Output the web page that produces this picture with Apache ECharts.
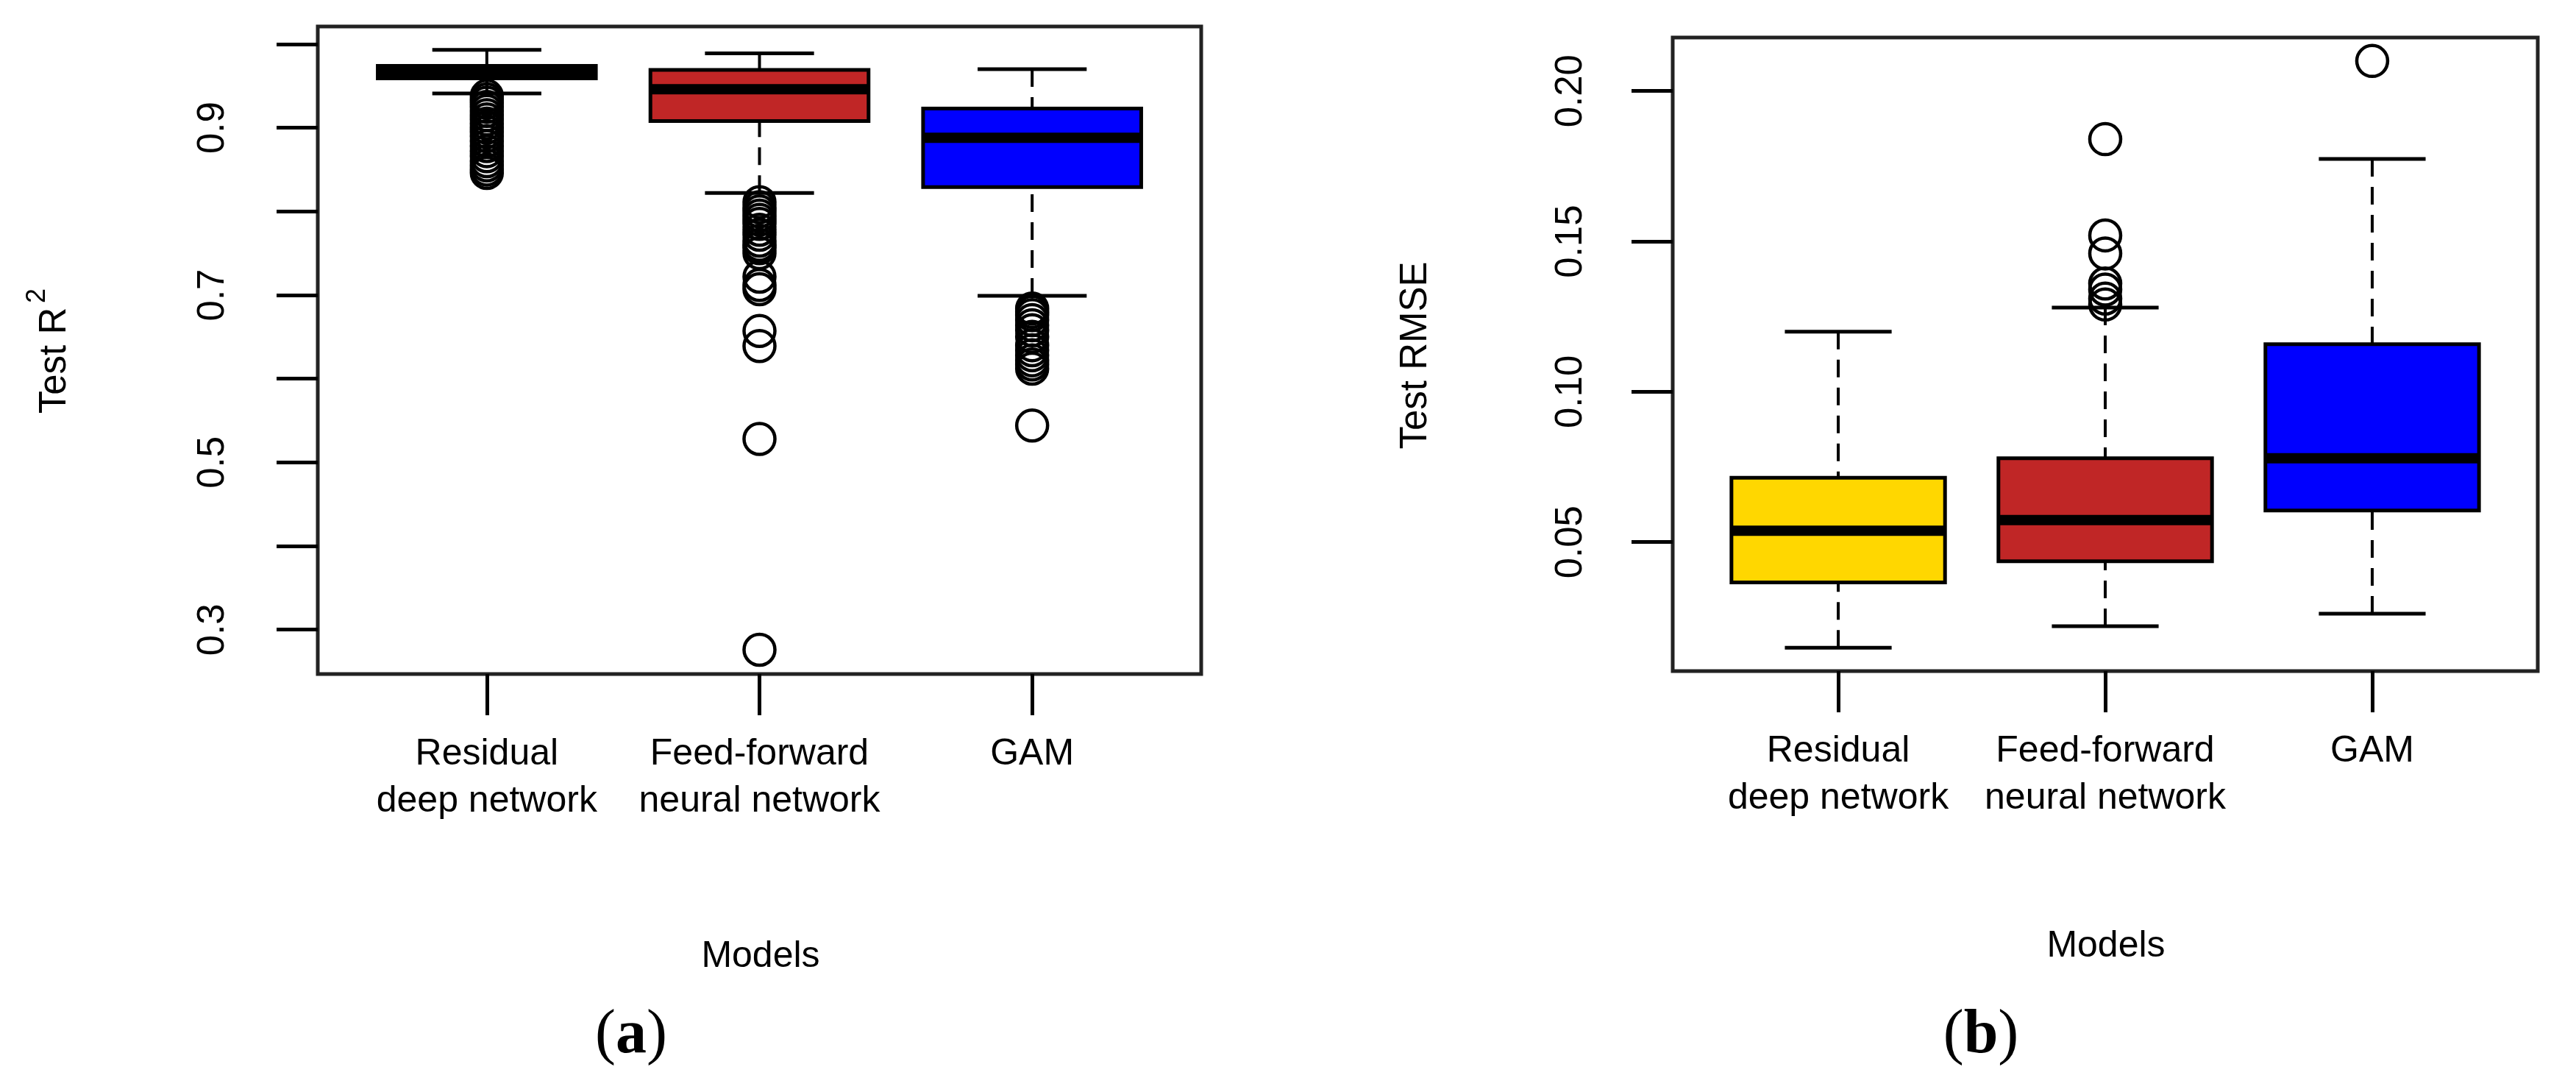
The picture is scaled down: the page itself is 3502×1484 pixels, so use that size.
<!DOCTYPE html>
<html>
<head>
<meta charset="utf-8">
<script src="https://cdn.jsdelivr.net/npm/echarts@6/dist/echarts.min.js"></script>
<style>
html,body{margin:0;padding:0;background:#fff;}
#chart{width:3502px;height:1484px;}
</style>
</head>
<body>
<div id="chart"></div>
<script>
// ---------- data ----------
const categories = ['Residual\ndeep network', 'Feed-forward\nneural network', 'GAM'];
const boxColors = ['#FFD700', '#C02626', '#0000FF'];

// [lower whisker, Q1, median, Q3, upper whisker]
const r2Box = [
  [0.941, 0.959, 0.967, 0.974, 0.993],
  [0.822, 0.908, 0.946, 0.969, 0.989],
  [0.699, 0.829, 0.888, 0.923, 0.970]
];
const r2Outliers = [
  [0.938, 0.934, 0.930, 0.925, 0.920, 0.915, 0.910, 0.905, 0.900, 0.895, 0.890, 0.884, 0.878, 0.872, 0.866, 0.860, 0.855, 0.850, 0.846],
  [0.811, 0.805, 0.800, 0.795, 0.790, 0.785, 0.778, 0.772, 0.765, 0.760, 0.756, 0.750, 0.722, 0.712, 0.707, 0.657, 0.639, 0.528, 0.276],
  [0.684, 0.680, 0.676, 0.670, 0.664, 0.658, 0.650, 0.640, 0.634, 0.628, 0.622, 0.617, 0.612, 0.544]
];
const rmseBox = [
  [0.0149, 0.0366, 0.0538, 0.0714, 0.1200],
  [0.0220, 0.0436, 0.0573, 0.0779, 0.1280],
  [0.0262, 0.0605, 0.0779, 0.1158, 0.1774]
];
const rmseOutliers = [
  [],
  [0.184, 0.152, 0.146, 0.136, 0.134, 0.131, 0.129],
  [0.210]
];
const xTickValues = [1, 2, 3];
const r2Ticks = [0.3, 0.4, 0.5, 0.6, 0.7, 0.8, 0.9, 1.0];
const r2Labels = [0.3, 0.5, 0.7, 0.9];
const rmseTicks = [0.05, 0.10, 0.15, 0.20];
const rmseLabels = [0.05, 0.10, 0.15, 0.20];

// ---------- styling ----------
const SANS = "'Liberation Sans', Arial, Helvetica, sans-serif";
const SERIF = "'Liberation Serif', 'Times New Roman', serif";
const BOXW = 0.8, CAPW = 0.4;
const FS = 51;

function boxRender(params, api) {
  const x = api.value(0);
  const lo = api.value(1), q1 = api.value(2), med = api.value(3), q3 = api.value(4), hi = api.value(5);
  const tl = api.coord([x - BOXW / 2, q3]);
  const br = api.coord([x + BOXW / 2, q1]);
  const mL = api.coord([x - BOXW / 2, med]);
  const mR = api.coord([x + BOXW / 2, med]);
  const pHi = api.coord([x, hi]), pLo = api.coord([x, lo]);
  const pQ3 = api.coord([x, q3]), pQ1 = api.coord([x, q1]);
  const cHiL = api.coord([x - CAPW / 2, hi]), cHiR = api.coord([x + CAPW / 2, hi]);
  const cLoL = api.coord([x - CAPW / 2, lo]), cLoR = api.coord([x + CAPW / 2, lo]);
  const color = boxColors[params.dataIndex];
  const dash = { stroke: '#000', lineWidth: 4, lineDash: [24, 14] };
  const solid = { stroke: '#000', lineWidth: 5 };
  return {
    type: 'group',
    children: [
      { type: 'line', shape: { x1: pHi[0], y1: pHi[1], x2: pQ3[0], y2: pQ3[1] }, style: dash },
      { type: 'line', shape: { x1: pLo[0], y1: pLo[1], x2: pQ1[0], y2: pQ1[1] }, style: dash },
      { type: 'line', shape: { x1: cHiL[0], y1: cHiL[1], x2: cHiR[0], y2: cHiR[1] }, style: solid },
      { type: 'line', shape: { x1: cLoL[0], y1: cLoL[1], x2: cLoR[0], y2: cLoR[1] }, style: solid },
      { type: 'rect', shape: { x: tl[0], y: tl[1], width: br[0] - tl[0], height: br[1] - tl[1] },
        style: { fill: color, stroke: '#000', lineWidth: 5 } },
      { type: 'line', shape: { x1: mL[0], y1: mL[1], x2: mR[0], y2: mR[1] },
        style: { stroke: '#000', lineWidth: 14 } }
    ]
  };
}

function boxData(stats) {
  return stats.map((s, i) => [i + 1].concat(s));
}
function outlierData(out) {
  const res = [];
  out.forEach((arr, i) => arr.forEach(v => res.push([i + 1, v])));
  return res;
}

function xAxis(gridIndex) {
  return {
    type: 'value', gridIndex: gridIndex, min: 0.38, max: 3.62,
    axisLine: { show: false },
    splitLine: { show: false },
    axisTick: { show: true, length: 56, customValues: xTickValues, lineStyle: { color: '#000', width: 5 } },
    axisLabel: {
      show: true, customValues: xTickValues, margin: 77,
      fontFamily: SANS, fontSize: 50, lineHeight: 64, color: '#000', align: 'center',
      formatter: v => categories[Math.round(v) - 1]
    }
  };
}
function yAxis(gridIndex, min, max, ticks, labels, digits, margin) {
  return {
    type: 'value', gridIndex: gridIndex, min: min, max: max,
    axisLine: { show: false },
    splitLine: { show: false },
    axisTick: { show: true, length: 56, customValues: ticks, lineStyle: { color: '#000', width: 5 } },
    axisLabel: {
      show: true, customValues: labels, rotate: 90, margin: margin,
      fontFamily: SANS, fontSize: FS, color: '#000',
      formatter: v => Number(v).toFixed(digits)
    }
  };
}

const chart = echarts.init(document.getElementById('chart'), null, { renderer: 'canvas' });
const textStyle = (t, x, y, size, extra) => Object.assign({
  type: 'text', x: x, y: y,
  style: { text: t, fontFamily: SANS, fontSize: size, fill: '#000', align: 'center', verticalAlign: 'middle' }
}, extra || {});

chart.setOption({
  animation: false,
  backgroundColor: '#fff',
  grid: [
    { left: 432, top: 36, width: 1201, height: 880, show: true, borderColor: '#222', borderWidth: 5, backgroundColor: 'transparent' },
    { left: 2274, top: 51, width: 1176, height: 861, show: true, borderColor: '#222', borderWidth: 5, backgroundColor: 'transparent' }
  ],
  xAxis: [xAxis(0), xAxis(1)],
  yAxis: [
    yAxis(0, 0.247, 1.021, r2Ticks, r2Labels, 1, 117),
    yAxis(1, 0.0071, 0.2178, rmseTicks, rmseLabels, 2, 113)
  ],
  series: [
    { type: 'custom', xAxisIndex: 0, yAxisIndex: 0, renderItem: boxRender, data: boxData(r2Box), z: 2 },
    { type: 'custom', xAxisIndex: 1, yAxisIndex: 1, renderItem: boxRender, data: boxData(rmseBox), z: 2 },
    { type: 'scatter', xAxisIndex: 0, yAxisIndex: 0, data: outlierData(r2Outliers), symbol: 'circle', symbolSize: 42,
      itemStyle: { color: 'rgba(0,0,0,0)', borderColor: '#000', borderWidth: 4.5, opacity: 1 }, z: 3 },
    { type: 'scatter', xAxisIndex: 1, yAxisIndex: 1, data: outlierData(rmseOutliers), symbol: 'circle', symbolSize: 42,
      itemStyle: { color: 'rgba(0,0,0,0)', borderColor: '#000', borderWidth: 4.5, opacity: 1 }, z: 3 }
  ],
  graphic: [
    textStyle('Test R', 75, 490, FS, { rotation: Math.PI / 2 }),
    textStyle('2', 51, 402, 36, { rotation: Math.PI / 2 }),
    textStyle('Test RMSE', 1925, 483, FS, { rotation: Math.PI / 2 }),
    textStyle('Models', 1034, 1300, 50),
    textStyle('Models', 2863, 1286, 50),
    {
      type: 'text', x: 858, y: 1408,
      style: { text: '({b|a})', fontFamily: SERIF, fontSize: 84, fill: '#000', align: 'center', verticalAlign: 'middle',
        rich: { b: { fontFamily: SERIF, fontSize: 84, fontWeight: 'bold', fill: '#000' } } }
    },
    {
      type: 'text', x: 2693, y: 1408,
      style: { text: '({b|b})', fontFamily: SERIF, fontSize: 84, fill: '#000', align: 'center', verticalAlign: 'middle',
        rich: { b: { fontFamily: SERIF, fontSize: 84, fontWeight: 'bold', fill: '#000' } } }
    }
  ]
});
</script>
</body>
</html>
